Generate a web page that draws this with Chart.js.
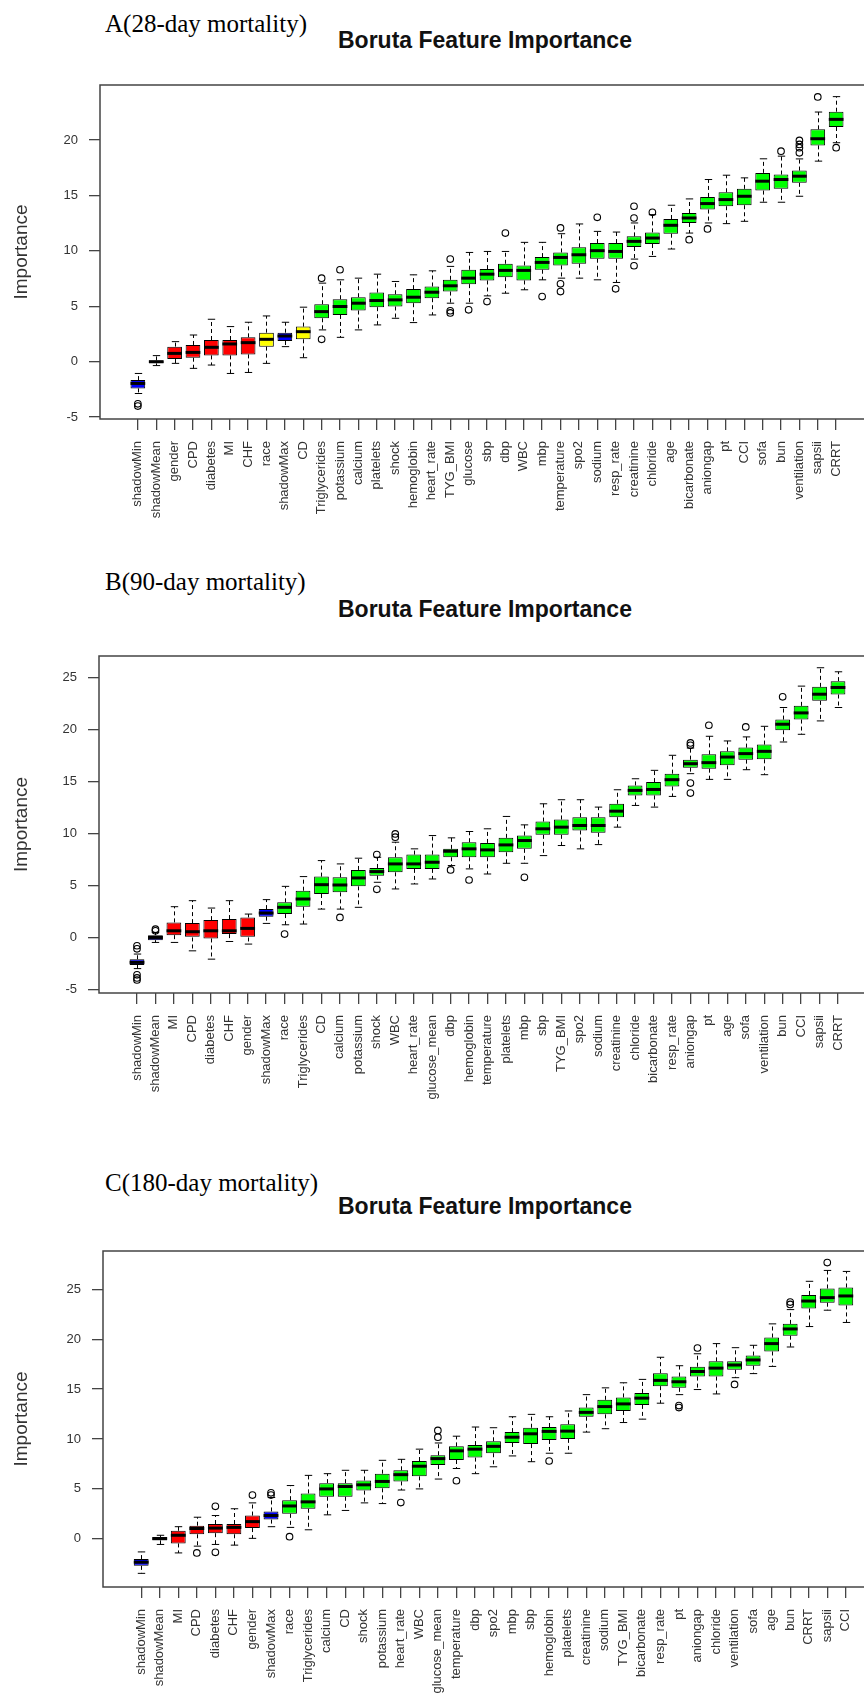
<!DOCTYPE html>
<html>
<head>
<meta charset="utf-8">
<script src="https://cdn.jsdelivr.net/npm/chart.js@4.4.0/dist/chart.umd.min.js"></script>
<style>
html,body{margin:0;padding:0;background:#fff;overflow:hidden}
body{width:864px;height:1693px;position:relative}
.lab{position:absolute;left:105px;font-family:"Liberation Serif","Times New Roman",serif;font-size:25px;line-height:25px;color:#000;white-space:nowrap}
.ttl{position:absolute;left:338px;font-family:"Liberation Sans",Arial,sans-serif;font-weight:bold;font-size:23px;line-height:23px;color:#111;white-space:nowrap}
.wrap{position:absolute;left:0}
canvas{display:block}
</style>
</head>
<body>
<div class="lab" style="top:11px">A(28-day mortality)</div>
<div class="ttl" style="top:29px">Boruta Feature Importance</div>
<div class="wrap" style="top:60px;width:900px;height:480px"><canvas id="cA" width="900" height="480"></canvas></div>

<div class="lab" style="top:569px">B(90-day mortality)</div>
<div class="ttl" style="top:598px">Boruta Feature Importance</div>
<div class="wrap" style="top:630px;width:900px;height:490px"><canvas id="cB" width="900" height="490"></canvas></div>

<div class="lab" style="top:1170px">C(180-day mortality)</div>
<div class="ttl" style="top:1195px">Boruta Feature Importance</div>
<div class="wrap" style="top:1225px;width:900px;height:468px"><canvas id="cC" width="900" height="468"></canvas></div>

<script>
// ---------------- Panel A (28-day) ----------------
const A_categories = ['shadowMin','shadowMean','gender','CPD','diabetes','MI','CHF','race','shadowMax','CD','Triglycerides','potassium','calcium','platelets','shock','hemoglobin','heart_rate','TYG_BMI','glucose','sbp','dbp','WBC','mbp','temperature','spo2','sodium','resp_rate','creatinine','chloride','age','bicarbonate','aniongap','pt','CCI','sofa','bun','ventilation','sapsii','CRRT'];
const A_decision = ['S','S','R','R','R','R','R','T','S','T','C','C','C','C','C','C','C','C','C','C','C','C','C','C','C','C','C','C','C','C','C','C','C','C','C','C','C','C','C'];
const A_lo  = [-2.87,-0.35,-0.15,-0.6,-0.3,-1.06,-0.97,-0.15,1.36,0.36,2.87,2.2,2.87,3.32,3.92,3.53,4.22,5.28,5.28,5.94,6.18,6.49,7.39,7.54,7.54,7.39,7.15,9.26,9.5,10.17,11.61,12.52,12.46,12.67,14.39,14.39,14.93,18.1,19.76];
const A_q1  = [-2.41,-0.15,0.24,0.36,0.57,0.57,0.66,1.36,1.87,2.02,3.92,4.22,4.62,4.92,4.98,5.28,5.73,6.33,7.0,7.33,7.63,7.33,8.3,8.69,8.84,9.29,9.29,10.35,10.62,11.55,12.52,13.73,14.03,14.12,15.44,15.6,16.14,19.52,21.18];
const A_med = [-1.96,0,0.75,0.84,1.3,1.6,1.72,2.02,2.32,2.71,4.52,4.98,5.28,5.52,5.58,5.82,6.27,6.85,7.54,7.9,8.24,8.24,8.96,9.41,9.65,10.02,9.95,10.86,11.16,12.31,12.97,14.27,14.63,14.93,16.29,16.44,16.74,20.12,21.87];
const A_q3  = [-1.66,0.12,1.36,1.51,1.96,1.96,2.2,2.62,2.62,3.17,5.19,5.64,5.82,6.24,6.09,6.55,6.79,7.39,8.3,8.36,8.84,8.69,9.44,9.86,10.32,10.71,10.71,11.31,11.67,12.88,13.42,14.87,15.29,15.6,17.04,16.89,17.25,20.97,22.56];
const A_hi  = [-1.06,0.55,1.81,2.41,3.83,3.17,3.56,4.13,3.56,4.92,7.09,7.39,7.54,7.9,7.24,7.84,8.2,8.6,9.86,9.95,9.95,10.77,10.77,11.55,12.43,11.76,11.7,12.52,13.27,14.12,14.69,16.44,16.83,16.59,18.31,18.55,18.3,22.53,23.92];
const A_outliers = [[-3.8,-4.0],[],[],[],[],[],[],[],[],[],[7.54,2.02],[8.3],[],[],[],[],[],[9.26,4.6,4.4],[4.68],[5.43],[11.61],[],[5.88],[12.07,7.03,6.33],[],[13.03],[6.58],[14.03,12.97,8.66],[13.48],[],[11.01],[11.98],[],[],[],[19.0],[18.85,19.31,19.61,19.97],[23.89],[19.31]];
const A_yTicks = [-5,0,5,10,15,20];

// ---------------- Panel B (90-day) ----------------
const B_categories = ['shadowMin','shadowMean','MI','CPD','diabetes','CHF','gender','shadowMax','race','Triglycerides','CD','calcium','potassium','shock','WBC','heart_rate','glucose_mean','dbp','hemoglobin','temperature','platelets','mbp','sbp','TYG_BMI','spo2','sodium','creatinine','chloride','bicarbonate','resp_rate','aniongap','pt','age','sofa','ventilation','bun','CCI','sapsii','CRRT'];
const B_decision = ['S','S','R','R','R','R','R','S','C','C','C','C','C','C','C','C','C','C','C','C','C','C','C','C','C','C','C','C','C','C','C','C','C','C','C','C','C','C','C'];
const B_lo  = [-3.0,-0.48,-0.48,-1.29,-2.09,-0.39,-0.64,1.35,1.22,1.29,2.73,2.73,2.9,5.31,4.67,5.15,5.63,6.92,6.6,6.11,7.14,7.14,7.88,8.85,8.53,8.94,10.62,12.71,12.55,13.58,15.77,15.22,15.22,16.15,15.67,18.82,19.56,20.85,22.14];
const B_q1  = [-2.65,-0.26,0.22,0,-0.1,0.32,0,2.0,2.25,2.96,4.18,4.34,4.92,5.95,6.27,6.6,6.6,7.72,7.72,7.72,8.2,8.53,9.88,9.88,10.3,10.07,11.58,13.67,13.67,14.54,16.35,16.25,16.57,17.12,17.15,19.95,20.98,22.78,23.39];
const B_med = [-2.4,0,0.64,0.55,0.64,0.64,0.87,2.35,2.9,3.7,5.08,5.05,5.73,6.34,7.08,7.08,7.24,8.3,8.53,8.43,8.91,9.33,10.46,10.62,10.78,10.78,12.16,14.16,14.25,15.19,16.73,16.83,17.37,17.7,17.92,20.53,21.62,23.42,24.07];
const B_q3  = [-2.1,0.22,1.45,1.38,1.67,1.77,1.93,2.73,3.38,4.5,5.86,5.79,6.5,6.69,7.72,7.98,7.98,8.53,9.17,9.1,9.59,9.81,11.16,11.36,11.58,11.58,12.87,14.64,14.96,15.77,17.12,17.63,17.92,18.28,18.57,20.98,22.3,24.13,24.68];
const B_hi  = [-1.6,0.48,2.96,3.54,2.83,3.54,2.25,3.64,4.92,5.86,7.4,7.08,7.63,7.72,9.17,8.53,9.81,9.59,10.2,10.46,11.65,10.84,12.87,13.26,13.26,12.55,14.22,15.28,16.09,17.54,18.24,19.37,18.92,19.31,20.33,22.14,24.2,25.97,25.58];
const B_outliers = [[-0.8,-1.1,-3.6,-3.9,-4.1],[0.64,0.8],[],[],[],[],[],[],[0.32],[],[],[1.93],[],[7.98,4.63],[9.65,9.97],[],[],[6.5],[5.53],[],[],[5.79],[],[],[],[],[],[],[],[],[18.5,18.73,14.86,13.9],[20.43],[],[20.27],[],[23.17],[],[],[]];
const B_yTicks = [-5,0,5,10,15,20,25];

// ---------------- Panel C (180-day) ----------------
const C_categories = ['shadowMin','shadowMean','MI','CPD','diabetes','CHF','gender','shadowMax','race','Triglycerides','calcium','CD','shock','potassium','heart_rate','WBC','glucose_mean','temperature','dbp','spo2','mbp','sbp','hemoglobin','platelets','creatinine','sodium','TYG_BMI','bicarbonate','resp_rate','pt','aniongap','chloride','ventilation','sofa','age','bun','CRRT','sapsii','CCI'];
const C_decision = ['S','S','R','R','R','R','R','S','C','C','C','C','C','C','C','C','C','C','C','C','C','C','C','C','C','C','C','C','C','C','C','C','C','C','C','C','C','C','C'];
const C_lo  = [-3.48,-0.58,-1.43,-0.75,-0.58,-0.65,0.03,1.2,1.13,0.89,2.39,2.83,3.59,3.52,4.88,4.99,5.98,7.04,6.52,7.21,8.3,7.72,8.57,8.57,10.69,11.03,11.65,11.99,13.59,14.45,14.96,14.52,16.15,16.56,17.28,19.23,21.28,22.92,21.69];
const C_q1  = [-2.73,-0.17,-0.48,0.44,0.55,0.44,1.06,1.91,2.49,3.0,4.2,4.2,4.82,5.05,5.74,6.25,7.38,7.89,8.13,8.57,9.6,9.49,9.9,10.01,12.23,12.47,12.81,13.42,15.3,15.13,16.26,16.26,16.94,17.35,18.78,20.36,23.09,23.67,23.4];
const C_med = [-2.36,0,0.34,1.02,1.06,1.13,1.71,2.32,3.28,3.69,4.99,5.23,5.4,5.74,6.42,7.27,8.03,8.81,8.98,9.26,10.18,10.52,10.76,10.79,12.67,13.25,13.52,14.1,15.88,15.74,16.77,17.11,17.42,17.93,19.57,21.04,23.84,24.18,24.35];
const C_q3  = [-2.05,0.17,0.79,1.3,1.47,1.47,2.32,2.73,3.86,4.54,5.57,5.57,5.84,6.52,6.86,7.79,8.37,9.26,9.39,9.77,10.69,11.13,11.2,11.48,13.15,13.93,14.17,14.62,16.6,16.26,17.25,17.79,17.79,18.37,20.18,21.55,24.45,25.1,25.2];
const C_hi  = [-1.33,0.34,1.2,2.15,2.32,3.0,3.59,4.13,5.33,6.35,6.52,6.86,6.86,7.86,7.96,8.98,9.6,10.28,11.2,11.13,12.23,12.47,12.23,12.81,14.45,15.13,15.64,15.98,18.2,17.35,18.55,19.57,19.16,19.4,21.55,22.98,25.82,26.91,26.81];
const C_outliers = [[],[],[],[-1.43],[3.24,-1.37],[],[4.37],[4.37,4.6],[0.2],[],[],[],[],[],[3.62],[],[10.18,10.86],[5.81],[],[],[],[],[7.79],[],[],[],[],[],[],[13.35,13.15],[19.13],[],[15.47],[],[],[23.5,23.74],[],[27.7],[]];
const C_yTicks = [0,5,10,15,20,25];

// ---------------- drawing ----------------
const DECISION_COLORS = {S:'#0000ff', R:'#ff0000', T:'#ffff00', C:'#00ff00'};
const FONT = '"Liberation Sans", Arial, sans-serif';

const boxPlugin = {
  id: 'boxDeco',
  beforeDatasetsDraw(chart) {
    const d = chart.config.options.boxData, y = chart.scales.y, ctx = chart.ctx;
    const meta = chart.getDatasetMeta(0);
    ctx.save();
    ctx.strokeStyle = '#000';
    ctx.lineWidth = 1;
    meta.data.forEach((bar, i) => {
      const x = Math.round(bar.x) + 0.5, w = bar.width;
      const pLo = y.getPixelForValue(d.lo[i]), pQ1 = y.getPixelForValue(d.q1[i]);
      const pQ3 = y.getPixelForValue(d.q3[i]), pHi = y.getPixelForValue(d.hi[i]);
      ctx.setLineDash([4, 3]);
      ctx.beginPath();
      ctx.moveTo(x, pQ3); ctx.lineTo(x, pHi);
      ctx.moveTo(x, pQ1); ctx.lineTo(x, pLo);
      ctx.stroke();
      ctx.setLineDash([]);
      ctx.beginPath();
      ctx.moveTo(x - w / 4, pHi); ctx.lineTo(x + w / 4, pHi);
      ctx.moveTo(x - w / 4, pLo); ctx.lineTo(x + w / 4, pLo);
      ctx.stroke();
    });
    ctx.restore();
  },
  afterDatasetsDraw(chart) {
    const d = chart.config.options.boxData, y = chart.scales.y, ctx = chart.ctx;
    const meta = chart.getDatasetMeta(0);
    ctx.save();
    ctx.strokeStyle = '#000';
    ctx.lineWidth = 3;
    meta.data.forEach((bar, i) => {
      const w = bar.width, p = y.getPixelForValue(d.med[i]);
      ctx.beginPath();
      ctx.moveTo(bar.x - w / 2, p); ctx.lineTo(bar.x + w / 2, p);
      ctx.stroke();
    });
    const a = chart.chartArea;
    ctx.lineWidth = 1.5;
    ctx.strokeStyle = '#444';
    ctx.strokeRect(a.left, a.top, a.right - a.left, a.bottom - a.top);
    ctx.restore();
  }
};

function buildChart(canvasId, data, frame) {
  const n = data.cats.length;
  const boxes = data.cats.map((c, i) => ({x: i + 1, y: [data.q1[i], data.q3[i]]}));
  const pts = [];
  data.out.forEach((arr, i) => arr.forEach(v => pts.push({x: i + 1, y: v})));
  const xPad = 0.04 * n;
  return new Chart(document.getElementById(canvasId), {
    type: 'bar',
    data: {
      datasets: [
        {
          type: 'bar', data: boxes,
          backgroundColor: data.dec.map(k => DECISION_COLORS[k]),
          borderColor: '#000', borderWidth: 1, borderSkipped: false,
          barPercentage: 0.8, categoryPercentage: 1.0, order: 2
        },
        {
          type: 'scatter', data: pts,
          pointRadius: 3.3, pointBorderWidth: 1.1, pointBorderColor: '#000',
          pointBackgroundColor: 'rgba(255,255,255,0)', showLine: false, order: 1
        }
      ]
    },
    options: {
      responsive: false, animation: false,
      boxData: data,
      layout: {padding: {top: frame.padTop, right: frame.padRight, left: 0, bottom: 0}},
      plugins: {legend: {display: false}, tooltip: {enabled: false}},
      scales: {
        x: {
          type: 'linear', offset: false, min: 0.5 - xPad, max: n + 0.5 + xPad,
          afterBuildTicks: s => { s.ticks = data.cats.map((c, i) => ({value: i + 1})); },
          afterFit: s => { s.height = frame.xHeight; },
          ticks: {
            autoSkip: false, minRotation: 90, maxRotation: 90, padding: 11,
            font: {family: FONT, size: 13}, color: '#333',
            callback: v => data.cats[v - 1]
          },
          grid: {offset: false, drawOnChartArea: false, drawTicks: true, tickLength: 11, color: '#444', lineWidth: 1.3},
          border: {display: false}
        },
        y: {
          type: 'linear', min: frame.yMin, max: frame.yMax,
          afterBuildTicks: s => { s.ticks = data.yTicks.map(v => ({value: v})); },
          afterFit: s => { s.width = frame.yWidth; },
          ticks: {padding: 11, font: {family: FONT, size: 13}, color: '#333'},
          grid: {drawOnChartArea: false, drawTicks: true, tickLength: 11, color: '#444', lineWidth: 1.3},
          border: {display: false},
          title: {display: true, text: 'Importance', color: '#333',
                  font: {family: FONT, size: 19}, padding: {top: 10, bottom: 0}}
        }
      }
    },
    plugins: [boxPlugin]
  });
}

buildChart('cA',
  {cats: A_categories, dec: A_decision, lo: A_lo, q1: A_q1, med: A_med, q3: A_q3, hi: A_hi, out: A_outliers, yTicks: A_yTicks},
  {padTop: 25, padRight: 26, xHeight: 121, yWidth: 100, yMin: -5.17, yMax: 24.97});
buildChart('cB',
  {cats: B_categories, dec: B_decision, lo: B_lo, q1: B_q1, med: B_med, q3: B_q3, hi: B_hi, out: B_outliers, yTicks: B_yTicks},
  {padTop: 26, padRight: 24, xHeight: 127, yWidth: 99, yMin: -5.35, yMax: 27.1});
buildChart('cC',
  {cats: C_categories, dec: C_decision, lo: C_lo, q1: C_q1, med: C_med, q3: C_q3, hi: C_hi, out: C_outliers, yTicks: C_yTicks},
  {padTop: 26, padRight: 16, xHeight: 106, yWidth: 103, yMin: -4.85, yMax: 28.86});
</script>
</body>
</html>
